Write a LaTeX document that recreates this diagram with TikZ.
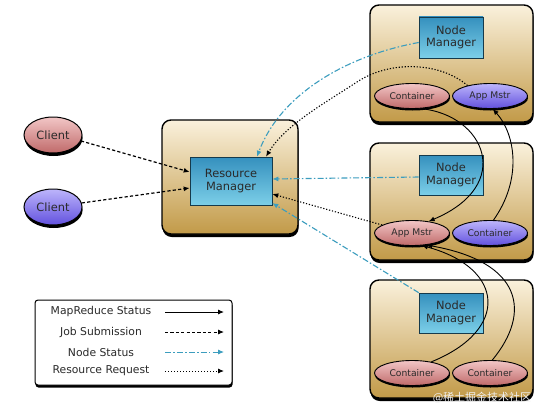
\documentclass[tikz,border=0pt]{standalone}
\usepackage{fontspec}
\setmainfont{DejaVu Sans}
\newfontfamily\cjkfont{Noto Sans CJK SC}
\usetikzlibrary{arrows.meta,shadows,shapes.geometric,calc}
\definecolor{cream}{HTML}{FAF1DC}
\definecolor{gold}{HTML}{C29A48}
\definecolor{tealA}{HTML}{3590BE}
\definecolor{tealB}{HTML}{7CCFE8}
\definecolor{pinkA}{HTML}{F2C6C6}
\definecolor{pinkB}{HTML}{C06A6A}
\definecolor{purpA}{HTML}{BDB5FB}
\definecolor{purpB}{HTML}{6251DE}
\definecolor{nstat}{HTML}{3C9DBE}
\definecolor{txt}{HTML}{2A2A2A}
\begin{document}
\begin{tikzpicture}[x=1pt,y=-1pt,
  font=\fontsize{11}{12}\selectfont, text=txt,
  outerbox/.style={draw=black,line width=1.4pt,rounded corners=9pt,
    top color=cream,bottom color=gold,inner sep=0pt,
    drop shadow={shadow xshift=0.6pt,shadow yshift=-3pt,opacity=1,fill=black}},
  mgr/.style={draw=black!60!tealA,line width=0.6pt,top color=tealA,bottom color=tealB,
    align=center,inner sep=0pt,font=\fontsize{11.4}{12.6}\selectfont,
    drop shadow={shadow xshift=0.5pt,shadow yshift=-1pt,opacity=0.6,fill=black}},
  client/.style={ellipse,draw=black,line width=1pt,minimum width=58pt,minimum height=36pt,
    inner sep=0pt,font=\fontsize{11.4}{12}\selectfont,
    drop shadow={shadow xshift=0.6pt,shadow yshift=-3pt,opacity=1,fill=black}},
  task/.style={ellipse,draw=black,line width=0.9pt,minimum width=75pt,minimum height=25pt,
    inner sep=0pt,font=\fontsize{9.2}{10}\selectfont,
    drop shadow={shadow xshift=0.5pt,shadow yshift=-2pt,opacity=1,fill=black}},
  pinkfill/.style={top color=pinkA,bottom color=pinkB},
  purpfill/.style={top color=purpA,bottom color=purpB},
  legendbox/.style={draw=black,line width=1pt,rounded corners=3pt,fill=white,
    drop shadow={shadow xshift=0.5pt,shadow yshift=-2.5pt,opacity=1,fill=black}},
  legtext/.style={font=\fontsize{10.8}{12}\selectfont,inner sep=0pt},
  mrstatus/.style={draw=black,line width=0.9pt,-{Latex[length=6pt,width=5pt]}},
  jobsub/.style={draw=black,line width=1.2pt,dash pattern=on 3.2pt off 2.2pt,-{Latex[length=6pt,width=5pt]}},
  nodestatus/.style={draw=nstat,line width=1.1pt,dash pattern=on 6pt off 2.2pt on 1.5pt off 2.2pt,-{Latex[length=6pt,width=5pt]}},
  resreq/.style={draw=black,line width=1.1pt,dash pattern=on 1.2pt off 1.8pt,-{Latex[length=6pt,width=5pt]}}
]
\useasboundingbox (0,0) rectangle (540,412);

% outer boxes
\node[outerbox,minimum width=136pt,minimum height=114pt] (rmbox) at (230,177) {};
\node[outerbox,minimum width=163pt,minimum height=117pt] (nmbox1) at (451.5,63.5) {};
\node[outerbox,minimum width=163pt,minimum height=117pt] (nmbox2) at (451.5,201.5) {};
\node[outerbox,minimum width=163pt,minimum height=118pt] (nmbox3) at (451.5,339) {};

% managers
\node[mgr,minimum width=82pt,minimum height=48pt] (rm) at (231,181) {Resource\\Manager};
\node[mgr,minimum width=64pt,minimum height=41pt] (nm1) at (451,37.5) {Node\\Manager};
\node[mgr,minimum width=64pt,minimum height=40pt] (nm2) at (451,175) {Node\\Manager};
\node[mgr,minimum width=64pt,minimum height=40pt] (nm3) at (451,313) {Node\\Manager};

% clients
\node[client,pinkfill] (c1) at (53,135) {Client};
\node[client,purpfill] (c2) at (53,207) {Client};

% tasks
\node[task,pinkfill] (ct1) at (412,96) {Container};
\node[task,purpfill] (am1) at (490,96) {App Mstr};
\node[task,pinkfill] (am2) at (412,233) {App Mstr};
\node[task,purpfill] (ct2) at (490,233) {Container};
\node[task,pinkfill] (ct3a) at (412,373) {Container};
\node[task,pinkfill] (ct3b) at (490,373) {Container};

% job submission
\draw[jobsub] (c1.-12) -- ($(rm.west)+(0,-9)$);
\draw[jobsub] (c2.8) -- ($(rm.west)+(0,7)$);

% node status
\draw[nodestatus] ($(nm1.west)+(0,5)$) .. controls (345,56) and (280,95) .. ($(rm.north)+(26,0)$);
\draw[nodestatus] ($(nm2.west)+(0,2)$) -- ($(rm.east)+(0,-2)$);
\draw[nodestatus] (nm3.north west) -- ($(rm.east)+(0,22)$);

% resource request
\draw[resreq] (am1.155) .. controls (440,62) and (390,60) .. (357,82)
  .. controls (325,103) and (285,125) .. ($(rm.north)+(35,0)$);
\draw[resreq] (am2.165) -- ($(rm.east)+(0,13)$);

% mapreduce status
\draw[mrstatus] (ct1.-55) .. controls (485,115) and (515,185) .. (am2.35);
\draw[mrstatus] (ct2.75) .. controls (522,180) and (516,135) .. (am1.-78);
\draw[mrstatus] (ct3a.30) .. controls (510,330) and (505,268) .. (am2.-52);
\draw[mrstatus] (ct3b.80) .. controls (532,312) and (522,262) .. (am2.-40);

% legend
\node[legendbox,minimum width=197pt,minimum height=85pt] (leg) at (133.5,342.5) {};
\node[legtext] (t1) at (101,312) {MapReduce Status};
\node[legtext] (t2) at (101,332) {Job Submission};
\node[legtext] (t3) at (101,352) {Node Status};
\node[legtext] (t4) at (101,371) {Resource Request};
\coordinate (l1a) at (165,312); \coordinate (l1b) at (224,312);
\coordinate (l2a) at (165,332); \coordinate (l2b) at (224,332);
\coordinate (l3a) at (165,352); \coordinate (l3b) at (224,352);
\coordinate (l4a) at (165,371); \coordinate (l4b) at (224,371);
\draw[mrstatus] (l1a) -- (l1b);
\draw[jobsub,line width=0.9pt] (l2a) -- (l2b);
\draw[nodestatus,line width=0.9pt] (l3a) -- (l3b);
\draw[resreq,line width=0.9pt] (l4a) -- (l4b);

% watermark
\node[text=white!88!gray,font=\cjkfont\fontsize{11}{12}\selectfont,inner sep=0pt] (wm) at (482,398) {@稀土掘金技术社区};
\end{tikzpicture}
\end{document}
